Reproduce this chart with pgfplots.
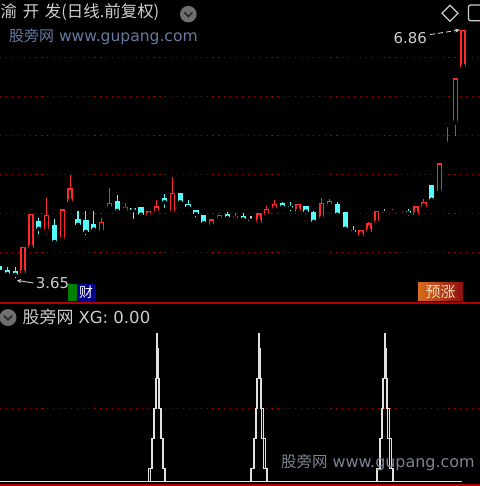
\documentclass[border=0pt]{standalone}
\usepackage{pgfplots}
\pgfplotsset{compat=1.18}
\usepackage{pgfplotstable}
\usetikzlibrary{arrows.meta}
\usepackage{fontspec}
\setmainfont{DejaVu Sans}
\newfontfamily\cjk{Noto Sans CJK SC}

\definecolor{upred}{RGB}{255,40,40}
\definecolor{downcyan}{RGB}{84,252,252}
\definecolor{dojigray}{RGB}{200,200,200}
\definecolor{gridred}{RGB}{165,0,0}
\definecolor{sepred}{RGB}{176,0,0}
\definecolor{txtgray}{RGB}{205,205,205}
\definecolor{wmblue}{RGB}{100,122,160}
\definecolor{wmgray}{RGB}{125,130,145}
\definecolor{icongray}{RGB}{110,110,110}
\definecolor{xgwhite}{RGB}{225,225,225}

% daily bars: index, open, high, low, close
\pgfplotstableread{
i o h l c
3 3.74 4.08 3.74 4.08
4 4.06 4.50 4.04 4.50
6 4.28 4.71 4.21 4.49
8 4.17 4.56 4.14 4.56
9 4.65 5.00 4.65 4.83
13 4.26 4.45 4.26 4.40
14 4.57 4.83 4.56 4.64
16 4.54 4.64 4.50 4.59
19 4.47 4.54 4.43 4.54
20 4.51 4.68 4.51 4.60
22 4.51 4.97 4.51 4.77
27 4.34 4.43 4.34 4.43
28 4.43 4.49 4.41 4.49
30 4.43 4.51 4.43 4.47
33 4.39 4.51 4.39 4.51
34 4.47 4.60 4.47 4.57
35 4.55 4.68 4.55 4.63
38 4.53 4.63 4.53 4.63
41 4.43 4.70 4.43 4.64
42 4.60 4.69 4.59 4.67
46 4.22 4.30 4.19 4.30
47 4.27 4.40 4.27 4.38
48 4.38 4.54 4.38 4.54
50 4.50 4.56 4.50 4.53
51 4.51 4.54 4.51 4.54
53 4.49 4.60 4.49 4.60
54 4.59 4.69 4.59 4.66
56 4.77 5.15 4.77 5.15
57 5.64 5.67 5.40 5.67
58 5.67 6.24 5.47 6.24
59 6.38 6.86 6.38 6.86
}\up

\pgfplotstableread{
i o h l c
0 3.83 3.87 3.76 3.78
1 3.78 3.82 3.72 3.73
2 3.77 3.82 3.65 3.72
5 4.41 4.45 4.21 4.31
7 4.36 4.44 4.14 4.14
10 4.44 4.54 4.36 4.36
11 4.42 4.54 4.20 4.27
12 4.37 4.54 4.25 4.30
15 4.67 4.74 4.52 4.54
17 4.58 4.58 4.41 4.55
18 4.59 4.59 4.49 4.49
21 4.70 4.76 4.55 4.65
23 4.77 4.77 4.60 4.65
24 4.63 4.68 4.56 4.59
25 4.55 4.55 4.43 4.50
26 4.49 4.49 4.38 4.38
29 4.50 4.53 4.43 4.45
31 4.47 4.51 4.41 4.43
36 4.64 4.66 4.55 4.59
37 4.60 4.65 4.51 4.58
39 4.60 4.60 4.47 4.53
40 4.52 4.54 4.39 4.40
43 4.63 4.66 4.49 4.49
44 4.53 4.53 4.31 4.31
45 4.30 4.34 4.25 4.27
52 4.54 4.57 4.45 4.51
55 4.87 4.87 4.68 4.68
}\down

\pgfplotstableread{
i o h l c
32 4.42 4.47 4.41 4.42
49 4.52 4.57 4.47 4.52
}\doji

% XG step profile around a signal day (dx in days, v in panel units)
\pgfplotstableread{
dx v
-1.08 0
-1.08 13.4
-0.76 13.4
-0.76 43.4
-0.51 43.4
-0.51 73.4
-0.28 73.4
-0.28 103.4
-0.13 103.4
-0.13 133.4
-0.06 133.4
-0.06 148.4
0.06 148.4
0.06 133.4
0.13 133.4
0.13 103.4
0.28 103.4
0.28 73.4
0.51 73.4
0.51 43.4
0.76 43.4
0.76 13.4
1.08 13.4
1.08 0
}\spikeouter

\pgfplotstableread{
dx v
-0.92 0
-0.92 13.4
-0.61 13.4
-0.61 43.4
-0.36 43.4
-0.36 73.4
-0.14 73.4
-0.14 103.4
-0.02 103.4
-0.02 133.4
0.02 133.4
0.02 103.4
0.14 103.4
0.14 73.4
0.36 73.4
0.36 43.4
0.61 43.4
0.61 13.4
0.92 13.4
0.92 0
}\spikeinner

\pgfplotsset{
  panel/.style={
    scale only axis, anchor=south west,
    width=480bp, xmin=0.0712, xmax=61.14,
    axis line style={draw=none}, xtick=\empty,
    yticklabels={}, major tick length=0pt,
    ymajorgrids, grid style={draw=gridred, line width=1bp, dash pattern=on 1.2bp off 4.7bp},
  },
  bar/.style={only marks, mark=none, forget plot,
    error bars/.cd, y dir=plus, y explicit, error mark=none,
    error bar style={#1}},
}

\begin{document}
\begin{tikzpicture}[x=1bp,y=1bp]
\useasboundingbox (0,0) rectangle (480,486);
\fill[black] (0,0) rectangle (480,486);

% ---------------- price panel ----------------
\begin{axis}[panel, at={(0bp,183bp)}, height=283bp,
  ymin=3.359, ymax=6.987, ytick={4,4.5,5,5.5,6,6.5}]
  % wicks
  \addplot[bar={draw=upred, line width=1.2bp}] table[x=i, y=l, y error plus expr=\thisrow{h}-\thisrow{l}] {\up};
  \addplot[bar={draw=downcyan, line width=1.1bp}] table[x=i, y=l, y error plus expr=\thisrow{h}-\thisrow{l}] {\down};
  \addplot[bar={draw=dojigray, line width=1.1bp}] table[x=i, y=l, y error plus expr=\thisrow{h}-\thisrow{l}] {\doji};
  % bodies: rising days hollow, falling days filled
  \addplot[bar={draw=upred, line width=5.4bp}] table[x=i, y=o, y error plus expr=\thisrow{c}-\thisrow{o}] {\up};
  \addplot[bar={draw=black, line width=2.4bp}] table[x=i, y expr=\thisrow{o}+0.018, y error plus expr={max(\thisrow{c}-\thisrow{o}-0.036,0)}] {\up};
  \addplot[bar={draw=downcyan, line width=5.2bp}] table[x=i, y=c, y error plus expr=\thisrow{o}-\thisrow{c}] {\down};
  \addplot[bar={draw=dojigray, line width=5bp}] table[x=i, y expr=\thisrow{o}-0.0064, y error plus expr=0.0128] {\doji};

  % high / low labels
  \node[anchor=east, inner sep=0pt, text=txtgray] at (axis cs:54.4,6.76) {\fontsize{15}{16}\selectfont 6.86};
  \draw[txtgray, line width=0.9bp, dash pattern=on 5bp off 3bp, -{Stealth[length=5bp,width=4bp]}]
    (axis cs:54.8,6.80) -- (axis cs:58.6,6.86);
  \node[anchor=west, inner sep=0pt, text=txtgray] at (axis cs:4.62,3.615) {\fontsize{15}{16}\selectfont 3.65};
  \draw[txtgray, line width=0.9bp, -{Stealth[length=5bp,width=4bp]}]
    (axis cs:4.33,3.615) -- (axis cs:2.15,3.65);
\end{axis}

% ---------------- XG panel ----------------
\begin{axis}[panel, at={(0bp,0bp)}, height=181bp,
  ymin=-4.3, ymax=176.7, ytick={73.4}]
  \addplot[xgwhite, line width=1bp] coordinates {(0.0712,0) (58.8,0)};
  \pgfplotsinvokeforeach{20.08,33.02,49.05}{
    \addplot[xgwhite, line width=0.9bp] table[x expr=\thisrow{dx}+#1, y=v] {\spikeouter};
    \addplot[xgwhite, line width=0.9bp] table[x expr=\thisrow{dx}+#1, y=v] {\spikeinner};
  }
\end{axis}

% panel borders
\draw[sepred, line width=2bp] (0,182.5) -- (480,182.5);
\draw[sepred, line width=1.5bp] (0,1) -- (480,1);

% title bar
\node[anchor=west, inner sep=0pt, text=txtgray] at (0.5,474)
  {\cjk\fontsize{16.5}{18}\selectfont 渝\hspace{2bp} 开\hspace{2bp} 发(日线.前复权)};
\fill[icongray] (188.3,471.8) circle (8.3);
\draw[black!85, line width=1.6bp] (184.3,473.6) -- (188.3,469.6) -- (192.3,473.6);
\node[anchor=west, inner sep=0pt, text=wmblue] at (9,449.3)
  {{\cjk\fontsize{15}{17}\selectfont 股旁网}\hspace{5bp}\fontsize{15.6}{17}\selectfont www.gupang.com};
\draw[txtgray, line width=1.2bp] (442,472.7) -- (450,480.7) -- (458,472.7) -- (450,464.7) -- cycle;
\draw[txtgray, line width=1.2bp, rounded corners=2bp] (468.5,465.3) rectangle (486,481);

% event badges
\fill[green!50!black] (68,185) rectangle (77,202);
\fill[blue!55!black] (77,185) rectangle (95,202);
\node[text=white, inner sep=0pt] at (86,193.5) {\cjk\fontsize{14}{15}\selectfont 财};
\shade[left color={rgb,255:red,215;green,110;blue,30}, right color={rgb,255:red,140;green,15;blue,15}]
  (418,185) rectangle (463,203);
\node[text={rgb,255:red,250;green,215;blue,185}, inner sep=0pt] at (440.5,194)
  {\cjk\fontsize{15}{16}\selectfont 预涨};

% XG panel header
\fill[icongray] (8,168.5) circle (8.5);
\draw[black!85, line width=1.6bp] (4,170.3) -- (8,166.3) -- (12,170.3);
\node[anchor=west, inner sep=0pt, text=txtgray] at (22.5,169.3)
  {{\cjk\fontsize{17}{18}\selectfont 股旁网}\hspace{5bp}\fontsize{16.6}{18}\selectfont XG: 0.00};
\node[anchor=west, inner sep=0pt, text=wmgray] at (281,23)
  {{\cjk\fontsize{15.5}{17}\selectfont 股旁网}\hspace{5bp}\fontsize{16}{17}\selectfont www.gupang.com};
\end{tikzpicture}
\end{document}
